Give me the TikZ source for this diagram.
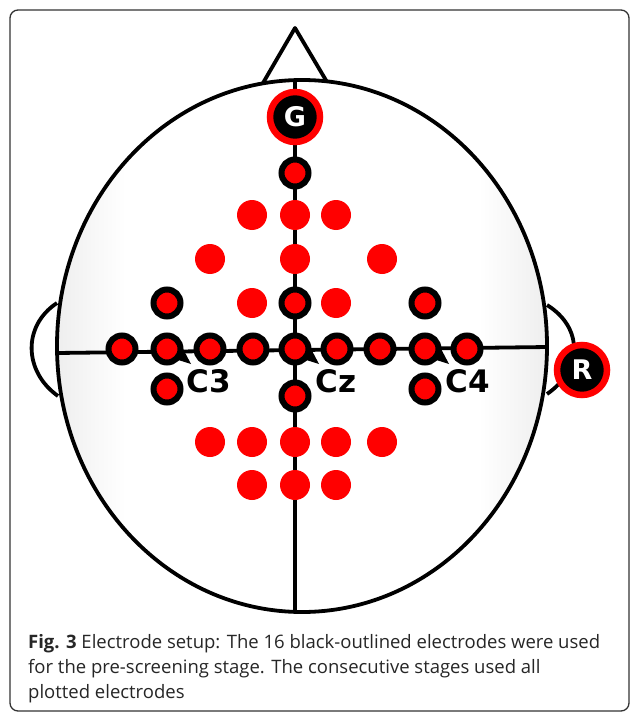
\documentclass[tikz,border=0pt]{standalone}
\usepackage{fontspec}
\newfontfamily\labelfont{DejaVu Sans}
\newfontfamily\capfont{Open Sans}
\pgfdeclarehorizontalshading{headshade}{100bp}{%
  color(0bp)=(black!30); color(32bp)=(white); color(68bp)=(white); color(100bp)=(black!30)}
\tikzset{
  outline/.style={line width=3.8pt, line join=round},
  elec/.style={circle, fill=red, inner sep=0pt, minimum size=30pt},
  elecblk/.style={circle, fill=red, draw=black, line width=6pt, inner sep=0pt, minimum size=27pt},
  refelec/.style={circle, fill=black, draw=red, line width=6.5pt, inner sep=0pt, minimum size=50pt,
    text=white, font=\labelfont\bfseries\fontsize{27}{27}\selectfont},
  chlabel/.style={inner sep=0pt, font=\labelfont\bfseries\fontsize{31}{31}\selectfont},
  captext/.style={anchor=base west, inner sep=0pt, font=\capfont\fontsize{18.5}{18.5}\selectfont, text=black!85},
}
\begin{document}
\begin{tikzpicture}[x=1pt, y=-1pt]
\useasboundingbox (0,0) rectangle (630,714);
% frame
\draw[black!80, line width=1.3pt, rounded corners=8pt] (10,10) rectangle (629,711);

% ears
\draw[outline] (57,303) .. controls (22,326) and (24,372) .. (58,396);
\draw[outline] (547,305) .. controls (584,328) and (582,370) .. (547,394);

% head
\coordinate (hc) at (302,346);
\shade[shading=headshade] (hc) ellipse [x radius=245, y radius=266];
\draw[outline] (hc) ellipse [x radius=245, y radius=266];

% nose
\coordinate (noseL) at (263,83);
\coordinate (noseT) at (295,28);
\coordinate (noseR) at (327,82);
\draw[outline] (noseL) -- (noseT) -- (noseR);

% midlines
\coordinate (top) at (295,80);
\coordinate (bot) at (295,612);
\coordinate (lft) at (57,353);
\coordinate (rgt) at (548,347);
\draw[outline] (top) -- (bot);
\draw[outline] (lft) -- (rgt);

% label pointers
\fill (172,358) -- (191,364) -- (181,345) -- cycle;
\fill (300,358) -- (319,364) -- (309,345) -- cycle;
\fill (430,358) -- (449,364) -- (439,345) -- cycle;

% plain electrodes
\foreach \n/\x/\y in {a1/252/215, a2/295/215, a3/336/215,
                      b1/210/259, b2/295/259, b3/382/259,
                      c1/252/303, c2/336/303,
                      d1/210/442, d2/252/442, d3/295/442, d4/336/442, d5/382/442,
                      e1/252/485, e2/295/485, e3/336/485}
  \node[elec] (\n) at (\x,\y) {};

% pre-screening electrodes
\node[elecblk] (fz) at (295,173) {};
\node[elecblk] (f3) at (167,303) {};
\node[elecblk] (fcz) at (295,303) {};
\node[elecblk] (f4) at (425,303) {};
\foreach \n/\x in {t7/122, c3/167, c1/210, c1b/253, cz/295, c2/337, c2b/380, c4/425, t8/467}
  \node[elecblk] (\n) at (\x,349) {};
\node[elecblk] (p3) at (167,389) {};
\node[elecblk] (cpz) at (295,396) {};
\node[elecblk] (p4) at (425,389) {};

% ground and reference
\node[refelec] (g) at (295,117) {G};
\node[refelec] (r) at (582,370) {R};

% channel labels
\node[chlabel] (lc3) at (209,381) {C3};
\node[chlabel] (lcz) at (336,381) {Cz};
\node[chlabel] (lc4) at (468,381) {C4};

% caption
\node[captext] (cap1) at (28,648) {\textbf{Fig. 3} Electrode setup: The 16 black-outlined electrodes were used};
\node[captext] (cap2) at (28,673) {for the pre-screening stage. The consecutive stages used all};
\node[captext] (cap3) at (28,698) {plotted electrodes};
\end{tikzpicture}
\end{document}
